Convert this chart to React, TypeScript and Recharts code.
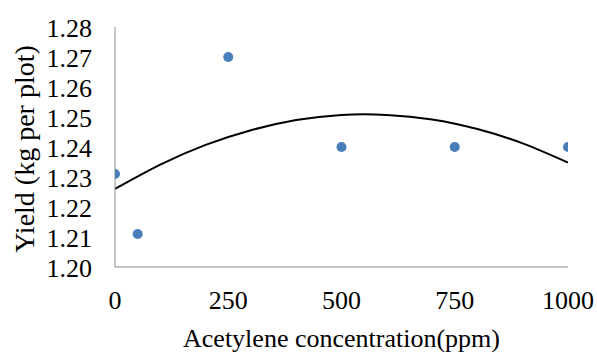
import React from 'react';
import { ComposedChart, Scatter, Line, XAxis, YAxis } from 'recharts';

// measured yield points
const concentrations = [0, 50, 250, 500, 750, 1000];
const yields = [1.231, 1.211, 1.27, 1.24, 1.24, 1.24];

// polynomial trendline
const trendX = [0, 100, 200, 300, 400, 500, 600, 700, 800, 900, 1000];
const trendY = [1.226, 1.2341, 1.2407, 1.2456, 1.249, 1.2507, 1.2507, 1.2492, 1.246, 1.2412, 1.2348];

const xTicks = [0, 250, 500, 750, 1000];
const yTicks = [1.2, 1.21, 1.22, 1.23, 1.24, 1.25, 1.26, 1.27, 1.28];

const points = concentrations.map((c, i) => ({ x: c, y: yields[i] }));
const trend = trendX.map((c, i) => ({ x: c, t: trendY[i] }));

const FONT = '"Liberation Serif", "Times New Roman", serif';
const txt: React.CSSProperties = { fill: '#000', fontSize: 26, fontFamily: FONT };

const XTick = (props: any) => (
  <text x={props.x} y={300} textAnchor="middle" dominantBaseline="central" style={txt}>
    {props.payload.value}
  </text>
);

const YTick = (props: any) => (
  <text x={92} y={props.y + 1} textAnchor="end" dominantBaseline="central" style={txt}>
    {Number(props.payload.value).toFixed(2)}
  </text>
);

const XLabel = (props: any) => {
  const vb = props.viewBox || {};
  return (
    <text x={vb.x + vb.width / 2} y={338} textAnchor="middle" dominantBaseline="central" style={txt}>
      Acetylene concentration(ppm)
    </text>
  );
};

const YLabel = () => {
  const cy = 149;
  return (
    <text x={24} y={cy} transform={`rotate(-90, 24, ${cy})`} textAnchor="middle" dominantBaseline="central" style={{ ...txt, fontSize: 28 }}>
      Yield (kg per plot)
    </text>
  );
};

const App: React.FC = () => {
  return (
    <div style={{ position: 'absolute', left: 0, top: 0 }}>
      <ComposedChart width={597} height={352} margin={{ top: 27, right: 29, bottom: 0, left: 0 }}>
        <XAxis
          type="number"
          dataKey="x"
          domain={[0, 1000]}
          ticks={xTicks}
          interval={0}
          allowDataOverflow
          height={85}
          stroke="#8c8c8c"
          tickLine={false}
          tick={<XTick />}
          label={<XLabel />}
        />
        <YAxis
          type="number"
          dataKey="y"
          domain={[1.2, 1.28]}
          ticks={yTicks}
          interval={0}
          allowDataOverflow
          width={115}
          stroke="#8c8c8c"
          tickLine={false}
          tick={<YTick />}
          label={<YLabel />}
        />
        <Line
          data={trend}
          dataKey="t"
          type="natural"
          stroke="#000"
          strokeWidth={2}
          dot={false}
          activeDot={false}
          isAnimationActive={false}
        />
        <Scatter
          data={points}
          dataKey="y"
          fill="#4a7ebb"
          shape={(p: any) => <circle cx={p.cx} cy={p.cy} r={5} fill="#4a7ebb" />}
          isAnimationActive={false}
        />
      </ComposedChart>
    </div>
  );
};

export default App;
